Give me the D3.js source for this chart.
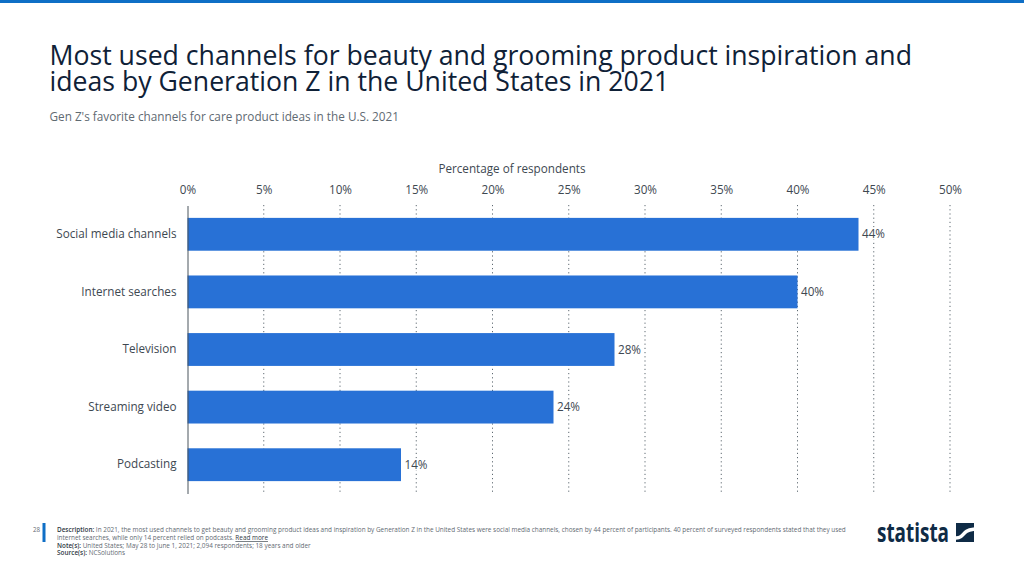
<!DOCTYPE html>
<html>
<head>
<meta charset="utf-8">
<script src="https://cdn.jsdelivr.net/npm/d3@7"></script>
<style>
html, body { margin: 0; padding: 0; background: #fff; }
svg { display: block; font-family: "Open Sans", sans-serif; }
.grid line { stroke: #5f6a72; stroke-dasharray: 1.2 3; }
.tick-label { font-size: 11.7px; fill: #3e4851; }
.value-label { paint-order: stroke; stroke: #fff; stroke-width: 3px; }
</style>
</head>
<body>
<svg id="chart" width="1024" height="576"></svg>
<script>
const categories = ['Social media channels', 'Internet searches', 'Television', 'Streaming video', 'Podcasting'];
const values = [44, 40, 28, 24, 14];
const xTicks = [0, 5, 10, 15, 20, 25, 30, 35, 40, 45, 50];
const titleLines = [
    'Most used channels for beauty and grooming product inspiration and',
    'ideas by Generation Z in the United States in 2021'
];
const subtitle = "Gen Z's favorite channels for care product ideas in the U.S. 2021";
const axisTitle = 'Percentage of respondents';

const svg = d3.select('#chart');

const x = d3.scaleLinear().domain([0, 50]).range([187.5, 950]);
const y = d3.scaleBand().domain(categories).range([205.5, 493.5]).paddingInner(0.43).paddingOuter(0.215);

// top stripe
svg.append('rect').attr('width', 1024).attr('height', 3).attr('fill', '#0f6fc6');

// titles
svg.append('g').selectAll('text')
    .data(titleLines)
    .enter()
    .append('text')
    .attr('x', 49.5)
    .attr('y', (d, i) => 65 + i * 25.5)
    .attr('font-size', 26.65)
    .attr('fill', '#0f2137')
    .text(d => d);

svg.append('text')
    .attr('x', 49.5)
    .attr('y', 121)
    .attr('font-size', 11.75)
    .attr('fill', '#5f6a72')
    .text(subtitle);

svg.append('text')
    .attr('x', 512)
    .attr('y', 173)
    .attr('text-anchor', 'middle')
    .attr('class', 'tick-label')
    .text(axisTitle);

// gridlines
svg.append('g').attr('class', 'grid')
    .selectAll('line')
    .data(xTicks.slice(1))
    .enter()
    .append('line')
    .attr('x1', d => x(d))
    .attr('x2', d => x(d))
    .attr('y1', 205)
    .attr('y2', 493);

// x axis labels
const xAxis = d3.axisTop(x).tickValues(xTicks).tickFormat(d => d + '%').tickSize(0).tickPadding(0);
const xg = svg.append('g').attr('transform', 'translate(0,194)').call(xAxis);
xg.attr('font-family', null).attr('font-size', null);
xg.select('.domain').remove();
xg.selectAll('text').attr('class', 'tick-label');

// bars
svg.append('g').selectAll('rect')
    .data(values)
    .enter()
    .append('rect')
    .attr('x', x(0))
    .attr('y', (d, i) => y(categories[i]))
    .attr('width', d => x(d) - x(0))
    .attr('height', y.bandwidth())
    .attr('fill', '#2871d6');

// y axis
const yAxis = d3.axisLeft(y).tickSize(0).tickPadding(11);
const yg = svg.append('g').attr('transform', `translate(${x(0)},0)`).call(yAxis);
yg.attr('font-family', null).attr('font-size', null);
yg.select('.domain').attr('stroke', '#4a545c').attr('stroke-width', 1);
yg.selectAll('text').attr('class', 'tick-label');

// value labels
svg.append('g').selectAll('text')
    .data(values)
    .enter()
    .append('text')
    .attr('class', 'tick-label value-label')
    .attr('x', d => x(d) + 3.5)
    .attr('y', (d, i) => y(categories[i]) + y.bandwidth() / 2)
    .attr('dy', '0.35em')
    .text(d => d + '%');

// footer
svg.append('rect').attr('x', 42.5).attr('y', 523).attr('width', 3).attr('height', 19).attr('fill', '#0f6fc6');
svg.append('text').attr('x', 33).attr('y', 532).attr('font-size', 6.2).attr('fill', '#5f6a72').text('28');

const footerLines = [
    [['Description:', true], [' In 2021, the most used channels to get beauty and grooming product ideas and inspiration by Generation Z in the United States were social media channels, chosen by 44 percent of participants. 40 percent of surveyed respondents stated that they used', false]],
    [['internet searches, while only 14 percent relied on podcasts. ', false], ['Read more', 'link']],
    [['Note(s):', true], [' United States; May 28 to June 1, 2021; 2,094 respondents; 18 years and older', false]],
    [['Source(s):', true], [' NCSolutions', false]]
];

const footer = svg.append('text').attr('font-size', 6.4).attr('fill', '#5f6a72');
footerLines.forEach((line, i) => {
    line.forEach((part, j) => {
        const span = footer.append('tspan').text(part[0]);
        if (j === 0) span.attr('x', 57).attr('y', 532.3 + i * 7.7);
        if (part[1] === true) span.attr('font-weight', 600).attr('fill', '#2f3a44');
        if (part[1] === 'link') span.attr('text-decoration', 'underline').attr('fill', '#2f3a44');
    });
});

// logo
svg.append('text')
    .attr('x', 877)
    .attr('y', 541.5)
    .attr('font-size', 27)
    .attr('font-weight', 700)
    .attr('fill', '#0f2b46')
    .attr('textLength', 72)
    .attr('lengthAdjust', 'spacingAndGlyphs')
    .text('statista');
svg.append('rect').attr('x', 956).attr('y', 523).attr('width', 18).attr('height', 19).attr('fill', '#0f2b46');
svg.append('path')
    .attr('d', d3.line().curve(d3.curveBasis)([[955, 538], [961, 538], [966, 530], [975, 529]]))
    .attr('fill', 'none')
    .attr('stroke', '#fff')
    .attr('stroke-width', 3.5);
</script>
</body>
</html>
